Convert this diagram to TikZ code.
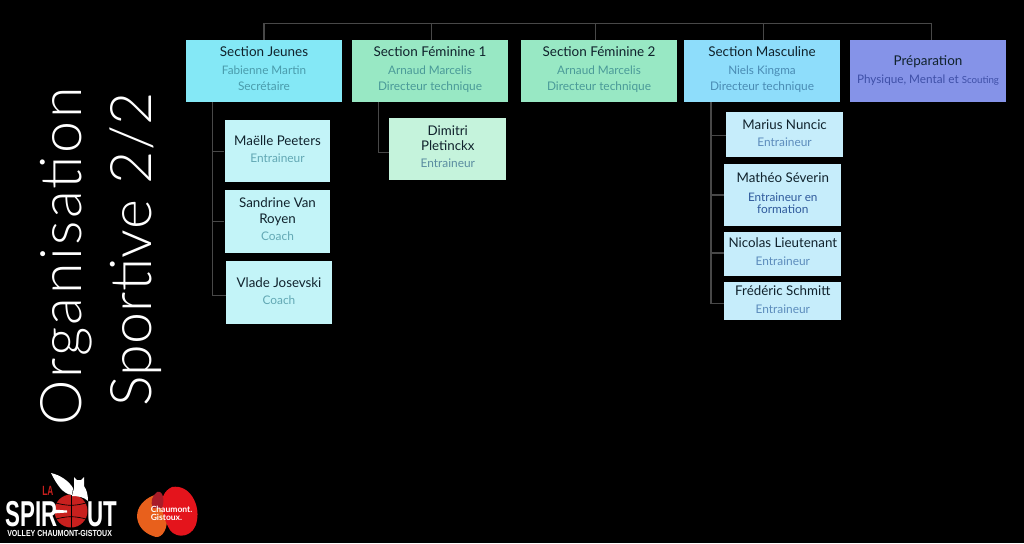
\documentclass[tikz,border=0pt]{standalone}
\usepackage{fontspec}
\setmainfont{Lato}
\newfontfamily\titlefont{Lato Light}
\newfontfamily\logofont[FakeStretch=0.62]{Liberation Sans}
\newfontfamily\logosmall[FakeStretch=0.8]{Liberation Sans}
\usetikzlibrary{positioning, backgrounds}
\definecolor{jeunesblue}{HTML}{84E8F6}
\definecolor{femgreen}{HTML}{98E8C4}
\definecolor{mascblue}{HTML}{8EDDFB}
\definecolor{prepviolet}{HTML}{8593E8}
\definecolor{jeuneskid}{HTML}{C3F4F8}
\definecolor{femkid}{HTML}{C5F3DC}
\definecolor{masckid}{HTML}{C6EDFB}
\definecolor{namedark}{HTML}{10222C}
\definecolor{linegrey}{HTML}{484848}
\definecolor{spirred}{HTML}{C8201E}
\definecolor{chaumorange}{HTML}{E8601C}
\definecolor{chaumred}{HTML}{E4141C}
\definecolor{chaumdark}{HTML}{A81C28}
\definecolor{subjeunes}{HTML}{4A9CAC}
\definecolor{subfem}{HTML}{4A9A98}
\definecolor{submasc}{HTML}{4A8CB4}
\definecolor{subprep}{HTML}{3F50A8}
\definecolor{subkid}{HTML}{62A8B4}
\definecolor{subfemkid}{HTML}{5A8CA0}
\definecolor{submasckid}{HTML}{5C8CBC}
\definecolor{subform}{HTML}{2F5A9C}
\tikzset{
  headbox/.style={inner sep=0pt, minimum width=117pt, minimum height=46.5pt,
    align=center, text=namedark, font=\fontsize{10.1}{13.5}\selectfont},
  kidbox/.style 2 args={inner sep=0pt, minimum width=#1*0.75pt, minimum height=#2*0.75pt,
    align=center, text=namedark, font=\fontsize{10}{11.5}\selectfont},
  link/.style={draw=linegrey, line width=0.8pt},
  logotxt/.style={anchor=base west, inner sep=0pt, text=white},
  titletxt/.style={anchor=base, rotate=90, text=white, inner sep=0pt},
}
\newcommand{\subtxt}[2]{{\fontsize{8.8}{10}\selectfont\color{#1}#2\vphantom{q}}}
\newcommand{\kidsub}[3]{{\fontsize{8.9}{10}\selectfont\color{#1}#2\rule[-#3]{0pt}{1pt}}}
\begin{document}
\begin{tikzpicture}[
  x=0.75pt, y=-0.75pt,
  background rectangle/.style={fill=black},
  show background rectangle,
  inner frame sep=0pt
]
\useasboundingbox (0,0) rectangle (1024,543);

% section heads
\node[headbox, fill=jeunesblue] (jeunes) at (264,71) {Section Jeunes\\[0pt]\subtxt{subjeunes}{Fabienne Martin}\\[-1pt]\kidsub{subjeunes}{Secrétaire}{3.5pt}};
\node[headbox, fill=femgreen] (fem1) at (430,71) {Section Féminine 1\\[0pt]\subtxt{subfem}{Arnaud Marcelis}\\[-1pt]\kidsub{subfem}{Directeur technique}{3.5pt}};
\node[headbox, fill=femgreen] (fem2) at (599,71) {Section Féminine 2\\[0pt]\subtxt{subfem}{Arnaud Marcelis}\\[-1pt]\kidsub{subfem}{Directeur technique}{3.5pt}};
\node[headbox, fill=mascblue] (masc) at (762,71) {Section Masculine\\[0pt]\subtxt{submasc}{Niels Kingma}\\[-1pt]\kidsub{submasc}{Directeur technique}{3.5pt}};
\node[headbox, fill=prepviolet] (prep) at (928,71) {Préparation\\\subtxt{subprep}{Physique, Mental et {\fontsize{7.3}{8}\selectfont Scouting}}};

% kids
\node[kidbox={105.6}{62}, fill=jeuneskid] (maelle) at (277.5,151.3) {Maëlle Peeters\\[1.5pt]\kidsub{subkid}{Entraineur}{3.5pt}};
\node[kidbox={105.6}{62.7}, fill=jeuneskid] (sandrine) at (277.5,221.7) {Sandrine Van\\Royen\\[1.5pt]\kidsub{subkid}{Coach}{3.5pt}};
\node[kidbox={105.4}{62.4}, fill=jeuneskid] (vlade) at (279,292.5) {Vlade Josevski\\[1.5pt]\kidsub{subkid}{Coach}{2pt}};
\node[kidbox={117}{62.3}, fill=femkid] (dimitri) at (447.8,148.8) {Dimitri\\Pletinckx\\[1.5pt]\kidsub{subfemkid}{Entraineur}{3.5pt}};
\node[kidbox={116.7}{45.3}, fill=masckid] (marius) at (784.6,134.6) {Marius Nuncic\\[1.5pt]\kidsub{submasckid}{Entraineur}{2pt}};
\node[kidbox={117}{62}, fill=masckid] (matheo) at (782.8,195) {Mathéo Séverin\\[3pt]\subtxt{subform}{Entraineur en}\\[-3pt]\kidsub{subform}{formation}{3pt}};
\node[kidbox={117}{44}, fill=masckid] (nicolas) at (782.8,254.3) {Nicolas Lieutenant\\[1.5pt]\kidsub{submasckid}{Entraineur}{4pt}};
\node[kidbox={117}{38.6}, fill=masckid] (frederic) at (782.8,301) {Frédéric Schmitt\\[1.5pt]\kidsub{submasckid}{Entraineur}{2pt}};

% connectors
\coordinate (bus) at (264,23.7);
\draw[link] (jeunes.north) -- (jeunes.north |- bus) -- ([xshift=2.8pt]prep.north |- bus) -- ([xshift=2.8pt]prep.north);
\foreach \n/\dx in {fem1/0.8pt, fem2/-2.5pt, masc/1pt}
  \draw[link] ([xshift=\dx]\n.north) -- ([xshift=\dx]\n.north |- bus);
\coordinate (jeunestrunk) at (212.3,102);
\coordinate (femtrunk) at (378.7,102);
\coordinate (masctrunk) at (711,102);
\foreach \k/\dy in {maelle/0pt, sandrine/0pt, vlade/-2.4pt}
  \draw[link] (jeunestrunk) |- ([yshift=\dy]\k.west);
\draw[link] (femtrunk) |- ([yshift=-2.9pt]dimitri.west);
\foreach \k/\dy in {marius/-1pt, matheo/0pt, nicolas/1pt, frederic/-2pt}
  \draw[link] (masctrunk) |- ([yshift=\dy]\k.west);

% title
\node[titletxt, font=\titlefont\fontsize{43}{43}\selectfont\addfontfeature{LetterSpace=4.2}] (title1) at (81.7,256.5) {Organisation};
\node[titletxt, font=\titlefont\fontsize{43}{43}\selectfont\addfontfeature{LetterSpace=0.4}] (title2) at (151.7,249.5) {Sportive 2/2};

% logo club
\fill[spirred] (71,511) circle (16.5);
\draw[black, line width=0.5pt] (56,503) to[bend right=15] (86,503);
\draw[black, line width=0.5pt] (56,519) to[bend left=15] (86,519);
\draw[black, line width=0.5pt] (71,494.5) -- (71,527.5);
\fill[white] (53,509.5) -- (67,510.5) -- (67,512.5) -- (53,513.5) -- cycle;
\fill[white] (51,473) .. controls (60,475) and (69,481) .. (73,488) -- (72,495) .. controls (63,494) and (57,485) .. (51,473) -- cycle;
\fill[white] (74,477) -- (77,480) -- (81,480) -- (84,477) -- (84,486) .. controls (87,490) and (88,496) .. (88,501) .. controls (84,497) and (78,496) .. (72,496) -- (74,488) -- cycle;
\node[logotxt, font=\logofont\bfseries\fontsize{27}{27}\selectfont] (spir) at (5,526) {SPIR};
\node[logotxt, font=\logofont\bfseries\fontsize{27}{27}\selectfont] (ut) at (87,526) {UT};
\node[logotxt, text=spirred, font=\logofont\bfseries\fontsize{10}{10}\selectfont] (la) at (42,495) {LA};
\node[logotxt, font=\logosmall\bfseries\fontsize{6.6}{7}\selectfont] (volley) at (7,536.5) {VOLLEY CHAUMONT-GISTOUX};

% logo commune
\fill[chaumorange] (150,497) .. controls (160,490) and (168,505) .. (167,520) .. controls (167,532) and (160,540) .. (153,536) .. controls (135,530) and (130,508) .. (150,497) -- cycle;
\fill[chaumred] (172,487) .. controls (190,484) and (200,505) .. (197,520) .. controls (195,537) and (177,540) .. (170,530) .. controls (163,518) and (155,495) .. (172,487) -- cycle;
\fill[chaumdark] (157,492) .. controls (163,490) and (165,500) .. (162,508) -- (153,508) .. controls (150,502) and (152,496) .. (157,492) -- cycle;
\node[anchor=west, inner sep=0pt, align=left, text=white, font=\bfseries\fontsize{6.4}{6.2}\selectfont] (commune) at (150.5,513) {Chaumont.\\Gistoux.};
\end{tikzpicture}
\end{document}
